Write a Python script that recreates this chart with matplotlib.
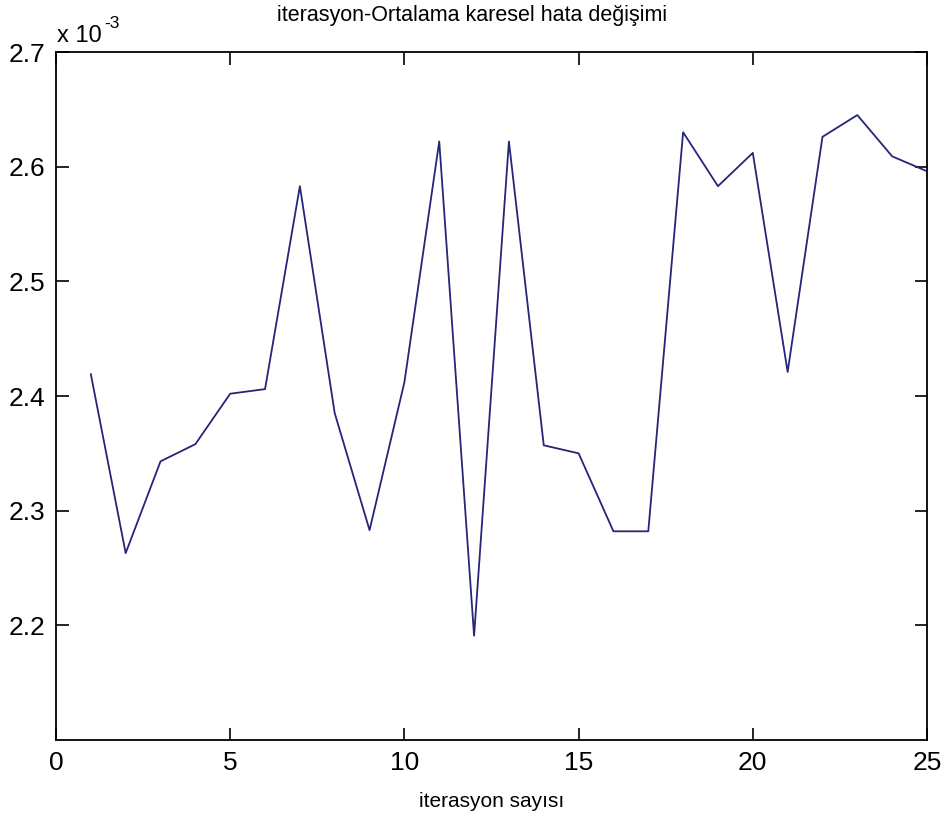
import matplotlib
matplotlib.use('Agg')
import matplotlib.pyplot as plt
import numpy as np

# iterasyon vs ortalama karesel hata (x 1e-3)
iterasyon = list(range(1, 26))
hata = [2.419, 2.263, 2.343, 2.358, 2.402, 2.406, 2.583, 2.385, 2.283, 2.412,
        2.622, 2.191, 2.622, 2.357, 2.350, 2.282, 2.282, 2.630, 2.583, 2.612,
        2.421, 2.626, 2.645, 2.609, 2.596]
xticks = [0, 5, 10, 15, 20, 25]
yticks = [2.2, 2.3, 2.4, 2.5, 2.6, 2.7]

plt.rcParams['font.family'] = ['Liberation Sans', 'DejaVu Sans']

fig = plt.figure(figsize=(9.44, 8.18), dpi=100)
ax1 = fig.add_axes([56/944, 78/818, 871/944, 688/818])
ax1.plot(iterasyon, hata, color='#25257a', linewidth=1.3)

ax1.set_xlim(0, 25)
ax1.set_ylim(2.1, 2.7)
ax1.set_xticks(xticks)
ax1.set_yticks(yticks)
ax1.set_yticklabels([f'{v:.1f}' for v in yticks])
ax1.tick_params(direction='in', length=9, width=1.2, top=True, right=True,
                labelsize=19, pad=8)
for s in ax1.spines.values():
    s.set_linewidth(1.3)

ax1.set_xlabel('iterasyon sayısı', fontsize=15, labelpad=12)
fig.text(0.5, 1 - 15/818, 'iterasyon-Ortalama karesel hata değişimi', fontsize=15.5,
         ha='center', va='center')
fig.text(57/944, 1 - 36/818, 'x 10', fontsize=17, ha='left', va='center')
fig.text(104/944, 1 - 23/818, '-3', fontsize=12.5, ha='left', va='center')

fig.savefig('out.png', dpi=100)
